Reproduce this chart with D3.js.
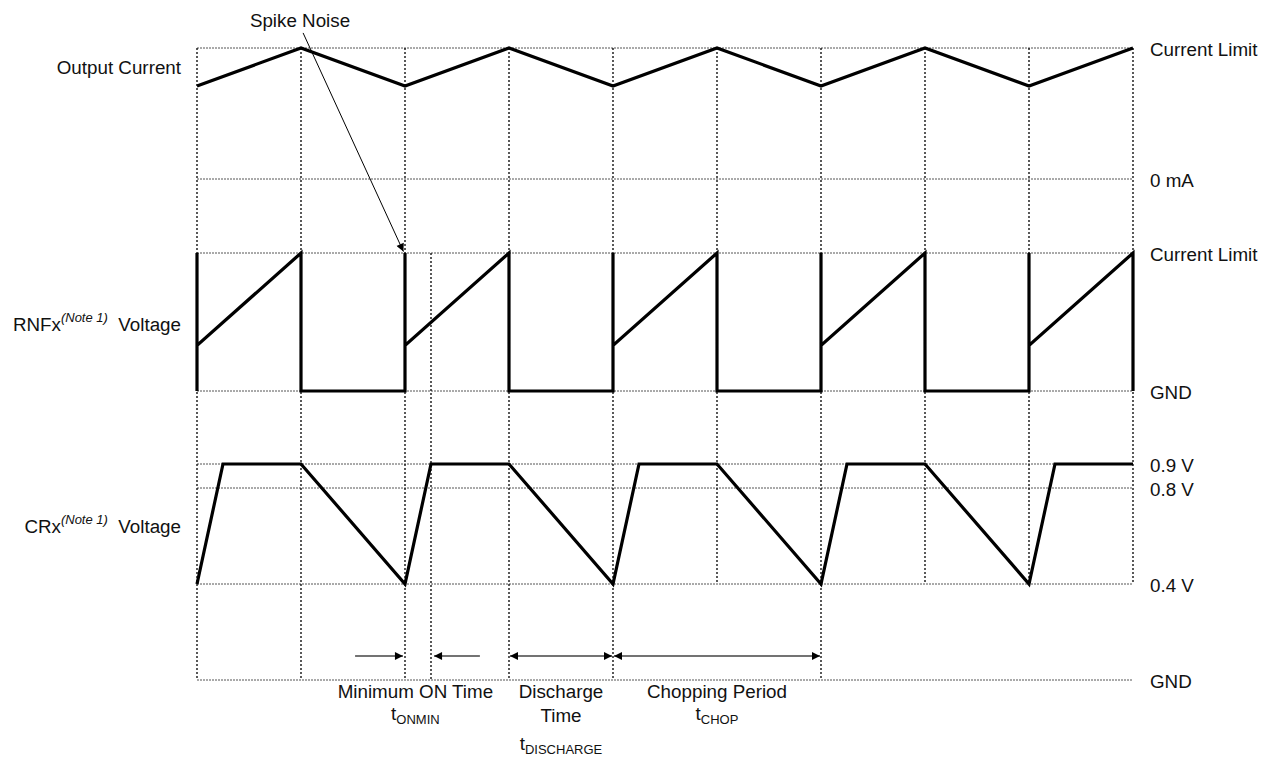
<!DOCTYPE html>
<html><head><meta charset="utf-8">
<script src="https://cdn.jsdelivr.net/npm/d3@7/dist/d3.min.js"></script>
<style>
html,body{margin:0;padding:0;background:#fff;}
text{font-family:"Liberation Sans",Arial,sans-serif;fill:#111;}
</style></head>
<body><svg id="c" width="1275" height="758"></svg>
<script>
// ---- data (time in half-period units, values in each panel's own units) ----
const timeTicks = [0,1,2,3,4,5,6,7,8,9];
const outputCurrent = [[0,0.71],[1,1],[2,0.71],[3,1],[4,0.71],[5,1],[6,0.71],[7,1],[8,0.71],[9,1]];
const rnfVoltage = [[0,0],[0,1],[0,0.33],[1,1],[1,0],[2,0],[2,1],[2,0.33],[3,1],[3,0],[4,0],[4,1],[4,0.33],[5,1],[5,0],[6,0],[6,1],[6,0.33],[7,1],[7,0],[8,0],[8,1],[8,0.33],[9,1],[9,0]];
const crxVoltage = [[0,0.4],[0.25,0.9],[1,0.9],[2,0.4],[2.25,0.9],[3,0.9],[4,0.4],[4.25,0.9],[5,0.9],[6,0.4],[6.25,0.9],[7,0.9],[8,0.4],[8.25,0.9],[9,0.9]];
const currentLevels = [{v:1,label:"Current Limit"},{v:0,label:"0 mA"}];
const rnfLevels = [{v:1,label:"Current Limit"},{v:0,label:"GND"}];
const crxLevels = [{v:0.9,label:"0.9 V"},{v:0.8,label:"0.8 V"},{v:0.4,label:"0.4 V"},{v:0,label:"GND"}];
const fullVerticals = [0,1,2,3,4,6];
const partialVerticals = [5,7,8,9];
const onMinVertical = [2.25];
const dimArrows = [
  {from:1.52,to:1.99,start:false,end:true},
  {from:2.72,to:2.27,start:false,end:true},
  {from:3,to:4,start:true,end:true},
  {from:4,to:6,start:true,end:true}
];
const dimLabels = [
  {t:2.1, lines:[{txt:"Minimum ON Time"},{t:"t",sub:"ONMIN"}]},
  {t:3.5, lines:[{txt:"Discharge"},{txt:"Time"},{t:"t",sub:"DISCHARGE"}]},
  {t:5.0, lines:[{txt:"Chopping Period"},{t:"t",sub:"CHOP"}]}
];

const FS = 18.8;
const svg = d3.select("#c");
const x = d3.scaleLinear().domain([0,9]).range([197,1133]);
const yI = d3.scaleLinear().domain([0,1]).range([179,48]);
const yR = d3.scaleLinear().domain([0,1]).range([391,253]);
const yC = d3.scaleLinear().domain([0,0.9]).range([680,464]);

const defs = svg.append("defs");
defs.append("marker").attr("id","ah").attr("viewBox","0 0 10 10").attr("refX",10).attr("refY",5)
  .attr("markerWidth",10).attr("markerHeight",8).attr("markerUnits","userSpaceOnUse").attr("orient","auto-start-reverse")
  .append("path").attr("d","M0,0 L10,5 L0,10 Z").attr("fill","#000");

const grid = svg.append("g");
const hStyle = s => s.attr("stroke","#555").attr("stroke-width",1).attr("stroke-dasharray","2,1").attr("fill","none");
const vStyle = s => s.attr("stroke","#000").attr("stroke-width",1.3).attr("stroke-dasharray","2,2").attr("fill","none");

// horizontal grid
[[currentLevels,yI],[rnfLevels,yR],[crxLevels,yC]].forEach(([lv,sc])=>{
  grid.selectAll(null).data(lv).enter().append("line")
    .attr("x1",x(0)).attr("x2",x(9)).attr("y1",d=>sc(d.v)).attr("y2",d=>sc(d.v)).call(hStyle);
});
// vertical grid
grid.selectAll(null).data(fullVerticals).enter().append("line")
  .attr("x1",d=>x(d)).attr("x2",d=>x(d)).attr("y1",yI(1)).attr("y2",yC(0)).call(vStyle);
grid.selectAll(null).data(partialVerticals).enter().append("line")
  .attr("x1",d=>x(d)).attr("x2",d=>x(d)).attr("y1",yI(1)).attr("y2",yC(0.4)).call(vStyle);
grid.selectAll(null).data(onMinVertical).enter().append("line")
  .attr("x1",d=>x(d)).attr("x2",d=>x(d)).attr("y1",yR(1)).attr("y2",yC(0)).call(vStyle);

// signals
const sig = svg.append("g").attr("fill","none").attr("stroke","#000").attr("stroke-width",3.2).attr("stroke-linejoin","miter");
sig.append("path").attr("d",d3.line().x(d=>x(d[0])).y(d=>yI(d[1]))(outputCurrent));
sig.append("path").attr("d",d3.line().x(d=>x(d[0])).y(d=>yR(d[1]))(rnfVoltage));
sig.append("path").attr("d",d3.line().x(d=>x(d[0])).y(d=>yC(d[1]))(crxVoltage));

// right labels
const rl = svg.append("g").attr("font-size",FS);
[[currentLevels,yI],[rnfLevels,yR],[crxLevels,yC]].forEach(([lv,sc])=>{
  rl.selectAll(null).data(lv).enter().append("text")
    .attr("x",1150).attr("y",d=>sc(d.v)+8).text(d=>d.label);
});

// left labels
const ll = svg.append("g").attr("font-size",FS).attr("text-anchor","end");
ll.append("text").attr("x",181).attr("y",74).text("Output Current");
function noteLabel(name,y){
  const t = ll.append("text").attr("x",181).attr("y",y);
  t.append("tspan").text(name);
  t.append("tspan").attr("dy",-9).attr("font-size",13).attr("font-style","italic").text("(Note 1)");
  t.append("tspan").attr("dy",9).attr("xml:space","preserve").text("\u00a0\u00a0Voltage");
}
noteLabel("RNFx",331);
noteLabel("CRx",533);

// spike noise annotation
svg.append("text").attr("x",300).attr("y",27).attr("text-anchor","middle").attr("font-size",FS).text("Spike Noise");
svg.append("line").attr("x1",x(1.02)).attr("y1",yI(1.115)).attr("x2",x(1.985)).attr("y2",yR(1.01))
  .attr("stroke","#000").attr("stroke-width",1).attr("marker-end","url(#ah)");

// dimension arrows
svg.append("g").selectAll("line").data(dimArrows).enter().append("line")
  .attr("x1",d=>x(d.from)+(d.start?1:0)).attr("x2",d=>x(d.to)-(d.end&&d.to>d.from?1:-1)).attr("y1",yC(0.1)).attr("y2",yC(0.1))
  .attr("stroke","#444").attr("stroke-width",1.5)
  .attr("marker-start",d=>d.start?"url(#ah)":null).attr("marker-end",d=>d.end?"url(#ah)":null);

// dimension labels
const rowY = [698,722,750];
const dl = svg.append("g").attr("font-size",FS).attr("text-anchor","middle");
dimLabels.forEach(d=>{
  d.lines.forEach((ln,i)=>{
    const tx = dl.append("text").attr("x",x(d.t)).attr("y",rowY[i] - (ln.sub && i===1 ? 2 : 0));
    if(ln.sub){
      tx.append("tspan").text(ln.t);
      tx.append("tspan").attr("dy",4).attr("font-size",13).text(ln.sub);
    } else tx.text(ln.txt);
  });
});
</script></body></html>
